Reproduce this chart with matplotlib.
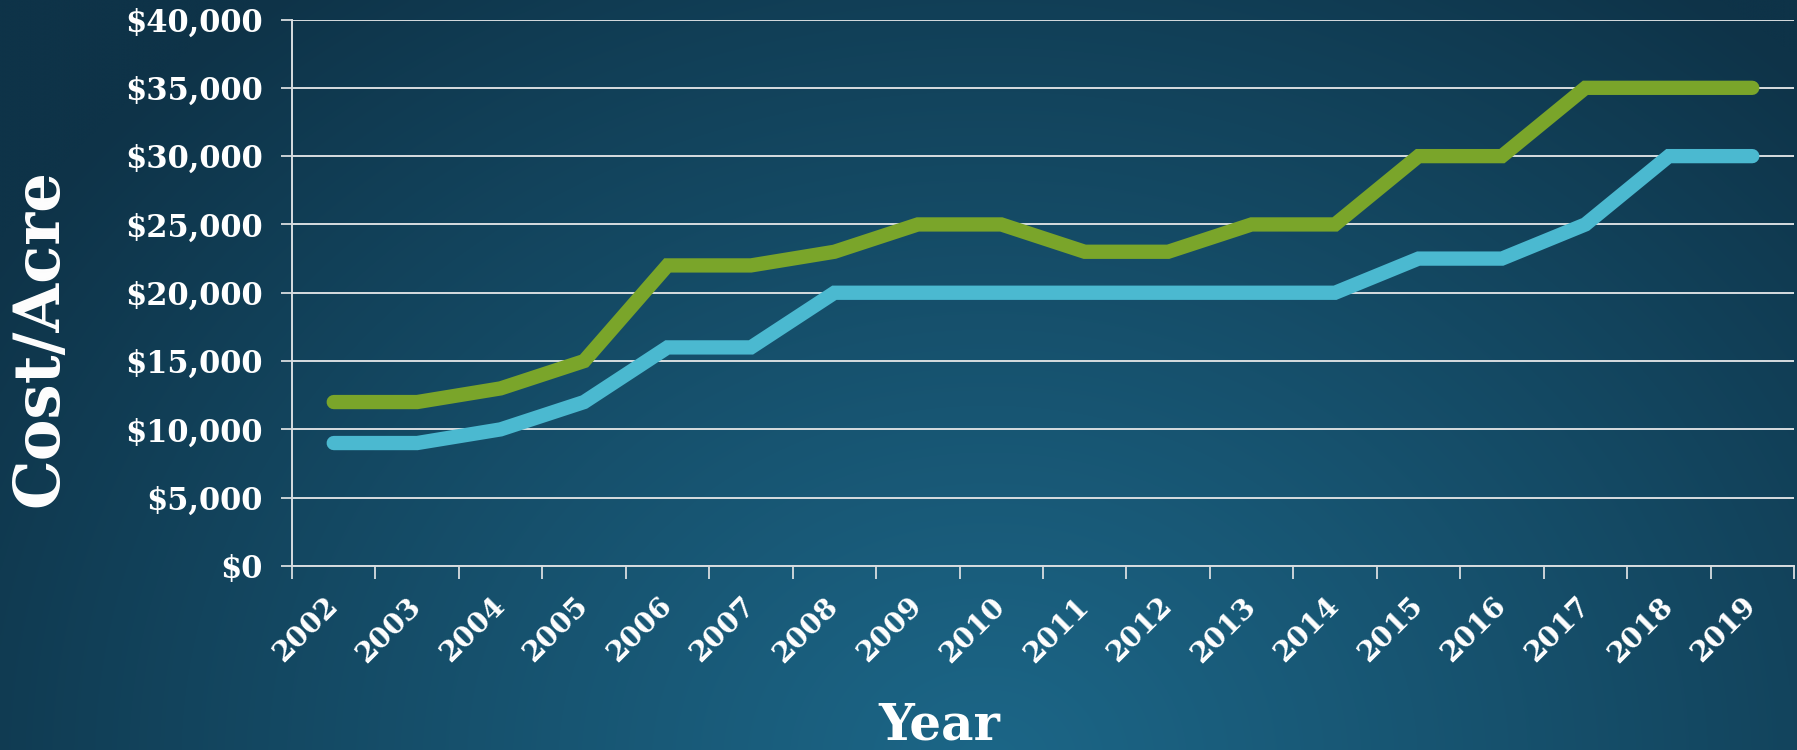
import numpy as np
import matplotlib
matplotlib.use("Agg")
import matplotlib.pyplot as plt
from matplotlib.colors import to_rgb

# ---- data ----
years = ["2002", "2003", "2004", "2005", "2006", "2007", "2008", "2009", "2010",
         "2011", "2012", "2013", "2014", "2015", "2016", "2017", "2018", "2019"]
green_series = [12000, 12000, 13000, 15000, 22000, 22000, 23000, 25000, 25000,
                23000, 23000, 25000, 25000, 30000, 30000, 35000, 35000, 35000]
blue_series = [9000, 9000, 10000, 12000, 16000, 16000, 20000, 20000, 20000,
               20000, 20000, 20000, 20000, 22500, 22500, 25000, 30000, 30000]
y_ticks = [0, 5000, 10000, 15000, 20000, 25000, 30000, 35000, 40000]
y_tick_labels = ["$0", "$5,000", "$10,000", "$15,000", "$20,000", "$25,000",
                 "$30,000", "$35,000", "$40,000"]

GREEN = "#7aa52a"
BLUE = "#4bb9d0"
GRID = "#d8dde0"
FONT = "DejaVu Serif"

W, H, DPI = 1797, 750, 100
fig = plt.figure(figsize=(W / DPI, H / DPI), dpi=DPI)

# ---- background gradient ----
bg = fig.add_axes([0, 0, 1, 1], zorder=-10)
yy, xx = np.mgrid[0:1:300j, 0:1:720j]
d = np.sqrt(((xx - 0.55) / 0.65) ** 2 + ((yy - 1.02) / 1.3) ** 2)
t = np.clip(d, 0, 1) ** 1.1
c_in = np.array(to_rgb("#1c6687"))
c_out = np.array(to_rgb("#0e3348"))
img = c_in[None, None, :] * (1 - t[..., None]) + c_out[None, None, :] * t[..., None]
bg.imshow(img, aspect="auto", extent=[0, 1, 0, 1], origin="upper", interpolation="bicubic")
bg.set_axis_off()

# ---- main axes ----
ax = fig.add_axes([292 / W, 1 - 566 / H, (1794 - 292) / W, (566 - 19.5) / H])
ax.patch.set_alpha(0)

x = np.arange(len(years))
ax.plot(x, blue_series, color=BLUE, lw=10.3, solid_capstyle="round",
        solid_joinstyle="miter", zorder=3)
ax.plot(x, green_series, color=GREEN, lw=10.3, solid_capstyle="round",
        solid_joinstyle="miter", zorder=4)

ax.set_xlim(-0.5, len(years) - 0.5)
ax.set_ylim(0, 40000)

ax.set_yticks(y_ticks)
ax.set_yticklabels(y_tick_labels)
ax.yaxis.grid(True, color=GRID, lw=1.4)
ax.set_axisbelow(True)

ax.set_xticks(x)
ax.set_xticklabels(years)
ax.set_xticks(np.arange(len(years) + 1) - 0.5, minor=True)
ax.tick_params(axis="x", which="major", length=0, pad=26)
ax.tick_params(axis="x", which="minor", length=9, width=1.3, color=GRID, direction="out")
ax.tick_params(axis="y", length=8, width=1.3, color=GRID, direction="out", pad=13)

for lab in ax.get_yticklabels():
    lab.set_fontfamily(FONT)
    lab.set_fontweight("bold")
    lab.set_fontsize(22)
    lab.set_color("white")
for lab in ax.get_xticklabels():
    lab.set_fontfamily(FONT)
    lab.set_fontweight("bold")
    lab.set_fontsize(20.5)
    lab.set_color("white")
    lab.set_rotation(45)
    lab.set_ha("right")
    lab.set_va("center")
    lab.set_rotation_mode("anchor")

for s in ["top", "right"]:
    ax.spines[s].set_visible(False)
for s in ["left", "bottom"]:
    ax.spines[s].set_color(GRID)
    ax.spines[s].set_linewidth(1.4)

fig.text(40 / W, 1 - 338 / H, "Cost/Acre", rotation=90, ha="center", va="center",
         fontsize=45, fontweight="bold", fontfamily=FONT, color="white")
fig.text(939 / W, 1 - 739 / H, "Year", ha="center", va="baseline",
         fontsize=36, fontweight="bold", fontfamily=FONT, color="white")

fig.savefig("out.png", dpi=DPI)
